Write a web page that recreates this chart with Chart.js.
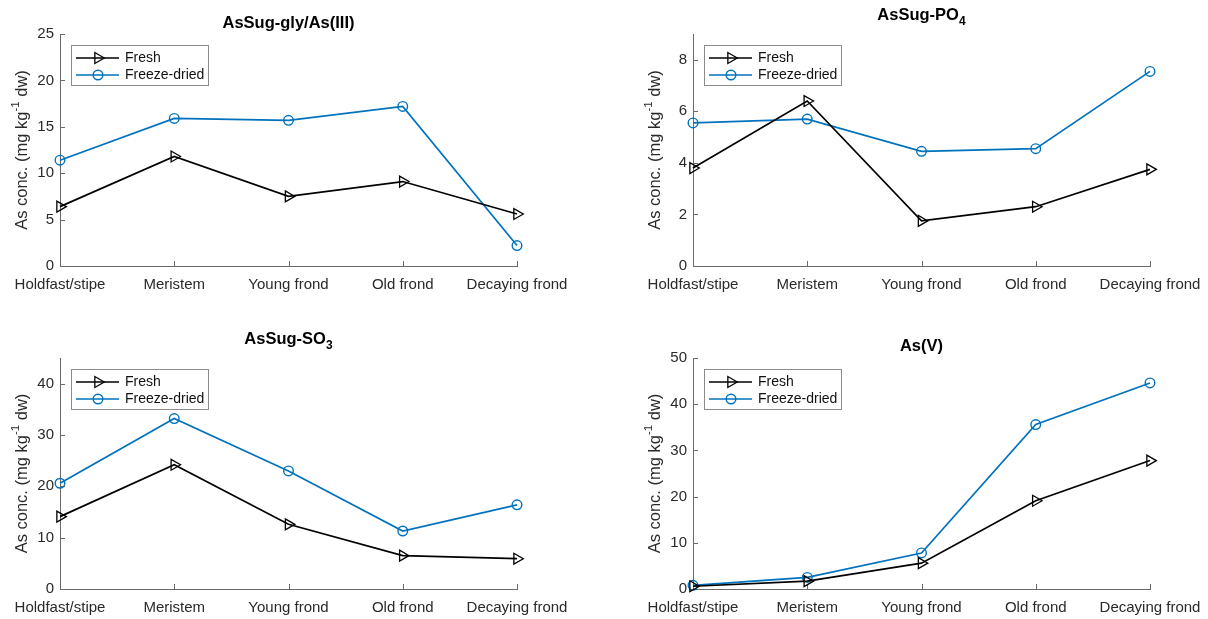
<!DOCTYPE html>
<html>
<head>
<meta charset="utf-8">
<script src="https://cdn.jsdelivr.net/npm/chart.js@4.4.0/dist/chart.umd.min.js"></script>
<style>
html,body{margin:0;padding:0;background:#fff;}
#wrap{position:relative;width:1208px;height:619px;overflow:hidden;background:#fff;}
.p{position:absolute;}
canvas{display:block;}
</style>
</head>
<body>
<div id="wrap">
  <div class="p" style="left:0;top:0"><canvas id="c0" width="604" height="310" style="width:604px;height:310px"></canvas></div>
  <div class="p" style="left:604px;top:0"><canvas id="c1" width="604" height="310" style="width:604px;height:310px"></canvas></div>
  <div class="p" style="left:0;top:310px"><canvas id="c2" width="604" height="309" style="width:604px;height:309px"></canvas></div>
  <div class="p" style="left:604px;top:310px"><canvas id="c3" width="604" height="309" style="width:604px;height:309px"></canvas></div>
</div>
<script>
// ---------- DATA ----------
const categories = ['Holdfast/stipe', 'Meristem', 'Young frond', 'Old frond', 'Decaying frond'];
const seriesNames = ['Fresh', 'Freeze-dried'];

const glyFresh  = [6.4, 11.8, 7.5, 9.1, 5.6];
const glyFreeze = [11.4, 15.9, 15.7, 17.2, 2.2];

const po4Fresh  = [3.8, 6.4, 1.75, 2.3, 3.75];
const po4Freeze = [5.55, 5.7, 4.45, 4.55, 7.55];

const so3Fresh  = [14.1, 24.2, 12.6, 6.5, 5.9];
const so3Freeze = [20.6, 33.2, 23.0, 11.3, 16.4];

const asvFresh  = [0.6, 1.7, 5.6, 19.1, 27.8];
const asvFreeze = [0.8, 2.5, 7.8, 35.6, 44.6];

const glyTicks = [0, 5, 10, 15, 20, 25];
const po4Ticks = [0, 2, 4, 6, 8];
const so3Ticks = [0, 10, 20, 30, 40];
const asvTicks = [0, 10, 20, 30, 40, 50];

const glyMax = 25, po4Max = 9, so3Max = 45, asvMax = 50;

const yLabelParts = [{t: 'As conc. (mg kg'}, {t: '-1', sup: true}, {t: ' dw)'}];

// ---------- STYLE ----------
const FONT = "'Liberation Sans', Arial, Helvetica, sans-serif";
const BLUE = '#0072BD';
const AXIS = '#6a6a6a';
const TXT = '#2a2a2a';

const panels = [
  {id: 'c0', w: 604, h: 310, area: {left: 60, right: 517, top: 34, bottom: 266},
   title: [{t: 'AsSug-gly/As(III)'}], titleDy: -11,
   fresh: glyFresh, freeze: glyFreeze, ticks: glyTicks, max: glyMax},
  {id: 'c1', w: 604, h: 310, area: {left: 89, right: 546, top: 34, bottom: 266},
   title: [{t: 'AsSug-PO'}, {t: '4', sub: true}], titleDy: -18.5,
   fresh: po4Fresh, freeze: po4Freeze, ticks: po4Ticks, max: po4Max},
  {id: 'c2', w: 604, h: 309, area: {left: 60, right: 517, top: 48, bottom: 279},
   title: [{t: 'AsSug-SO'}, {t: '3', sub: true}], titleDy: -18.5,
   fresh: so3Fresh, freeze: so3Freeze, ticks: so3Ticks, max: so3Max},
  {id: 'c3', w: 604, h: 309, area: {left: 89, right: 546, top: 48, bottom: 279},
   title: [{t: 'As(V)'}], titleDy: -12,
   fresh: asvFresh, freeze: asvFreeze, ticks: asvTicks, max: asvMax}
];

function drawParts(ctx, parts, cx, cy, size, bold, smallSize, shift) {
  const w = (p) => {
    ctx.font = (bold ? 'bold ' : '') + (p.sub || p.sup ? smallSize : size) + 'px ' + FONT;
    return ctx.measureText(p.t).width;
  };
  let total = 0;
  parts.forEach(p => total += w(p));
  let x = cx - total / 2;
  ctx.textAlign = 'left';
  ctx.textBaseline = 'middle';
  parts.forEach(p => {
    const pw = w(p);
    let dy = 0;
    if (p.sub) dy = shift;
    if (p.sup) dy = -shift;
    ctx.fillText(p.t, x, cy + dy);
    x += pw;
  });
}

function drawMarker(ctx, style, x, y, r) {
  ctx.beginPath();
  if (style === 'circle') {
    ctx.arc(x, y, r, 0, Math.PI * 2);
  } else {
    // right-pointing triangle
    ctx.moveTo(x + r, y);
    ctx.lineTo(x - r / 2, y - r * Math.sqrt(3) / 2);
    ctx.lineTo(x - r / 2, y + r * Math.sqrt(3) / 2);
    ctx.closePath();
  }
  ctx.stroke();
}

const matlabPlugin = {
  id: 'matlab',
  beforeDatasetsDraw(chart) {
    const ctx = chart.ctx;
    const xs = chart.scales.x, ys = chart.scales.y;
    const a = chart.chartArea;
    ctx.save();
    ctx.strokeStyle = AXIS;
    ctx.lineWidth = 1;
    xs.ticks.forEach((t, i) => {
      const px = Math.round(xs.getPixelForTick(i)) + 0.5;
      ctx.beginPath(); ctx.moveTo(px, a.bottom); ctx.lineTo(px, a.bottom - 5); ctx.stroke();
    });
    ys.ticks.forEach((t, i) => {
      const py = Math.round(ys.getPixelForTick(i)) + 0.5;
      ctx.beginPath(); ctx.moveTo(a.left, py); ctx.lineTo(a.left + 5, py); ctx.stroke();
    });
    ctx.restore();
  },
  afterDraw(chart) {
    const ctx = chart.ctx;
    const a = chart.chartArea;
    const o = chart.options.plugins.matlab;
    ctx.save();
    // title
    ctx.fillStyle = '#000';
    drawParts(ctx, o.title, (a.left + a.right) / 2, a.top + o.titleDy, 16.5, true, 12, 6);
    // y label
    ctx.save();
    ctx.translate(a.left - 38, (a.top + a.bottom) / 2);
    ctx.rotate(-Math.PI / 2);
    ctx.fillStyle = TXT;
    drawParts(ctx, yLabelParts, 0, 0, 16.5, false, 11.5, 6);
    ctx.restore();
    // legend
    const bx = a.left + 11, by = a.top + 11, bw = 137, bh = 40;
    ctx.fillStyle = '#fff';
    ctx.fillRect(bx, by, bw, bh);
    ctx.strokeStyle = '#8c8c8c';
    ctx.lineWidth = 1;
    ctx.strokeRect(bx + 0.5, by + 0.5, bw, bh);
    chart.data.datasets.forEach((ds, i) => {
      const ry = by + 13 + i * 17;
      ctx.strokeStyle = ds.borderColor;
      ctx.lineWidth = ds.borderWidth;
      ctx.beginPath(); ctx.moveTo(bx + 5, ry); ctx.lineTo(bx + 48, ry); ctx.stroke();
      ctx.lineWidth = ds.pointBorderWidth;
      drawMarker(ctx, ds.pointStyle, bx + 27, ry, ds.pointRadius);
      ctx.fillStyle = '#111';
      ctx.font = '14px ' + FONT;
      ctx.textAlign = 'left';
      ctx.textBaseline = 'middle';
      ctx.fillText(ds.label, bx + 54, ry + 0.5);
    });
    ctx.restore();
  }
};

panels.forEach(p => {
  const a = p.area;
  new Chart(document.getElementById(p.id), {
    type: 'line',
    data: {
      labels: categories,
      datasets: [
        {label: seriesNames[0], data: p.fresh, borderColor: '#000', backgroundColor: 'rgba(0,0,0,0)',
         borderWidth: 1.7, pointStyle: 'triangle', pointRotation: 90, pointRadius: 6.3,
         pointBorderWidth: 1.3, pointBorderColor: '#000', pointBackgroundColor: 'rgba(0,0,0,0)',
         clip: false, tension: 0},
        {label: seriesNames[1], data: p.freeze, borderColor: BLUE, backgroundColor: 'rgba(0,0,0,0)',
         borderWidth: 1.7, pointStyle: 'circle', pointRadius: 4.8,
         pointBorderWidth: 1.4, pointBorderColor: BLUE, pointBackgroundColor: 'rgba(0,0,0,0)',
         clip: false, tension: 0}
      ]
    },
    options: {
      responsive: false,
      animation: false,
      devicePixelRatio: 1,
      events: [],
      layout: {autoPadding: false, padding: {left: 0, top: a.top, right: p.w - a.right, bottom: 0}},
      plugins: {
        legend: {display: false},
        title: {display: false},
        tooltip: {enabled: false},
        matlab: {title: p.title, titleDy: p.titleDy}
      },
      scales: {
        x: {
          type: 'category', offset: false,
          grid: {display: false, drawTicks: false},
          border: {display: true, color: AXIS, width: 1},
          ticks: {padding: 10, color: TXT, font: {family: FONT, size: 15}, maxRotation: 0, autoSkip: false},
          afterFit: s => { s.height = p.h - a.bottom; s.paddingLeft = 0; s.paddingRight = 0; }
        },
        y: {
          type: 'linear', min: 0, max: p.max,
          afterBuildTicks: s => { s.ticks = p.ticks.map(v => ({value: v})); },
          grid: {display: false, drawTicks: false},
          border: {display: true, color: AXIS, width: 1},
          ticks: {padding: 6, color: TXT, font: {family: FONT, size: 15}},
          afterFit: s => { s.width = a.left; s.paddingTop = 0; s.paddingBottom = 0; }
        }
      }
    },
    plugins: [matlabPlugin]
  });
});
</script>
</body>
</html>
